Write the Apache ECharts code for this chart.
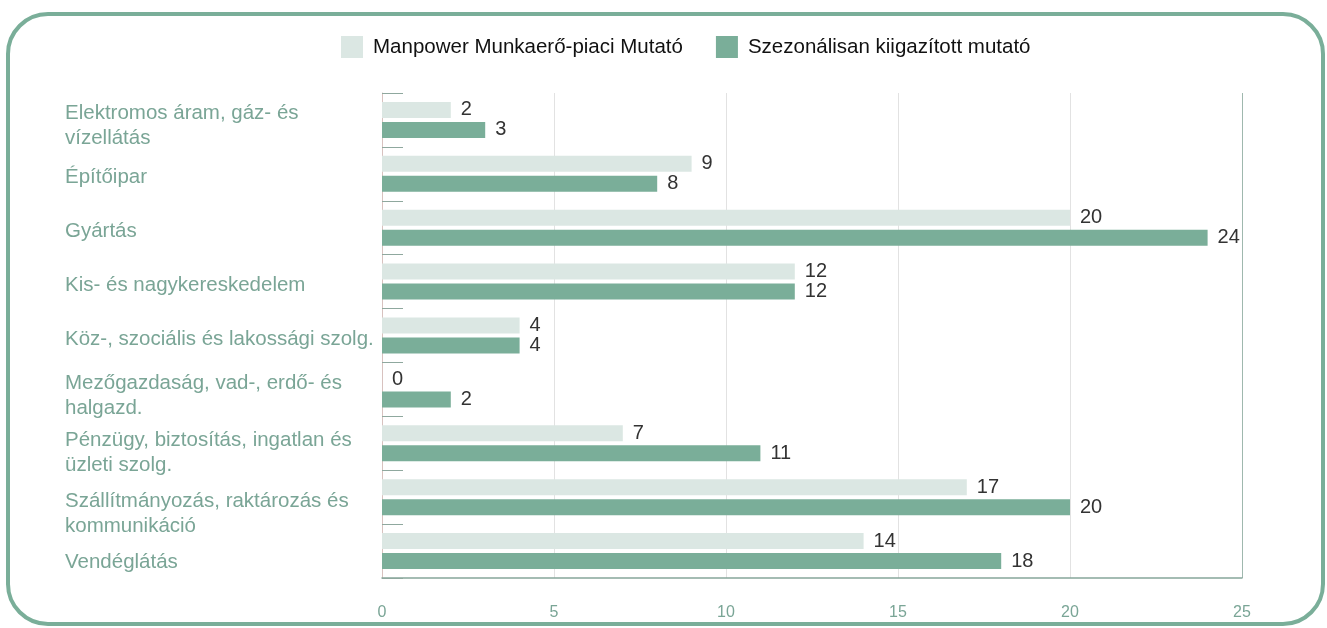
<!DOCTYPE html>
<html>
<head>
<meta charset="utf-8">
<script src="https://cdn.jsdelivr.net/npm/echarts@6/dist/echarts.min.js"></script>
<style>
  html, body { margin: 0; padding: 0; background: #fff; }
  .frame {
    position: absolute; left: 6px; top: 12px; width: 1319px; height: 614px;
    box-sizing: border-box; border: 4px solid #7aae99; border-radius: 42px;
  }
  #chart { position: absolute; left: 0; top: 0; width: 1327px; height: 628px; }
</style>
</head>
<body>
<div class="frame"></div>
<div id="chart"></div>
<script>
const categories = [
  'Elektromos áram, gáz- és\nvízellátás',
  'Építőipar',
  'Gyártás',
  'Kis- és nagykereskedelem',
  'Köz-, szociális és lakossági szolg.',
  'Mezőgazdaság, vad-, erdő- és\nhalgazd.',
  'Pénzügy, biztosítás, ingatlan és\nüzleti szolg.',
  'Szállítmányozás, raktározás és\nkommunikáció',
  'Vendéglátás'
];
const seriesNames = ['Manpower Munkaerő-piaci Mutató', 'Szezonálisan kiigazított mutató'];
const manpowerIndex = [2, 9, 20, 12, 4, 0, 7, 17, 14];
const seasonalIndex = [3, 8, 24, 12, 4, 2, 11, 20, 18];

// vertical nudge (px) of each category label, as in the original layout
const labelShift = [5.5, 3.5, 3.5, 3.5, 4, 6, 9.5, 17, 11.5];

const chart = echarts.init(document.getElementById('chart'));

const valueLabel = {
  show: true,
  position: 'right',
  distance: 10,
  color: '#333',
  fontSize: 20,
  fontFamily: 'Liberation Sans'
};

// spacer styles: an invisible first line pushes the label block down
const rich = { t: { color: '#7aa596', fontSize: 20.5, lineHeight: 25, fontFamily: 'Liberation Sans' } };
labelShift.forEach((s, i) => {
  rich['sp' + i] = { fontSize: 1, lineHeight: s * 2, height: s * 2 };
});

chart.setOption({
  animation: false,
  textStyle: { fontFamily: 'Liberation Sans' },
  legend: {
    top: 31,
    left: 336,
    itemWidth: 22,
    itemHeight: 22,
    itemGap: 33,
    icon: 'rect',
    textStyle: { color: '#111', fontSize: 20.5, fontFamily: 'Liberation Sans', padding: [0, 0, 0, 5] },
    data: seriesNames
  },
  grid: { left: 382, right: 85, top: 93, bottom: 50, outerBoundsMode: 'none' },
  xAxis: {
    type: 'value',
    min: 0,
    max: 25,
    interval: 5,
    axisLine: { show: true, lineStyle: { color: '#87a69b', width: 1.5 } },
    axisTick: { show: false },
    axisLabel: { color: '#7aa596', fontSize: 16, margin: 27 },
    splitLine: {
      show: true,
      lineStyle: { color: ['#e2e2e2', '#e2e2e2', '#e2e2e2', '#e2e2e2', '#e2e2e2', '#9fb8ae'], width: 1 }
    }
  },
  yAxis: {
    type: 'category',
    inverse: true,
    data: categories,
    axisLine: { show: true, lineStyle: { color: '#d8c2bf' } },
    axisTick: { show: true, inside: true, length: 21, lineStyle: { color: '#8fa89e' } },
    axisLabel: {
      interval: 0,
      hideOverlap: false,
      align: 'left',
      margin: 317,
      formatter: (value, index) => {
        const lines = value.split('\n').map(l => '{t|' + l + '}');
        return '{sp' + index + '| }\n' + lines.join('\n');
      },
      rich: rich
    }
  },
  series: [
    {
      name: seriesNames[0],
      type: 'bar',
      data: manpowerIndex,
      barWidth: 16,
      barGap: '25%',
      itemStyle: { color: '#dbe7e3' },
      label: valueLabel
    },
    {
      name: seriesNames[1],
      type: 'bar',
      data: seasonalIndex,
      barWidth: 16,
      itemStyle: { color: '#7aae99' },
      label: valueLabel
    }
  ]
});

window.addEventListener('resize', () => chart.resize());
</script>
</body>
</html>
